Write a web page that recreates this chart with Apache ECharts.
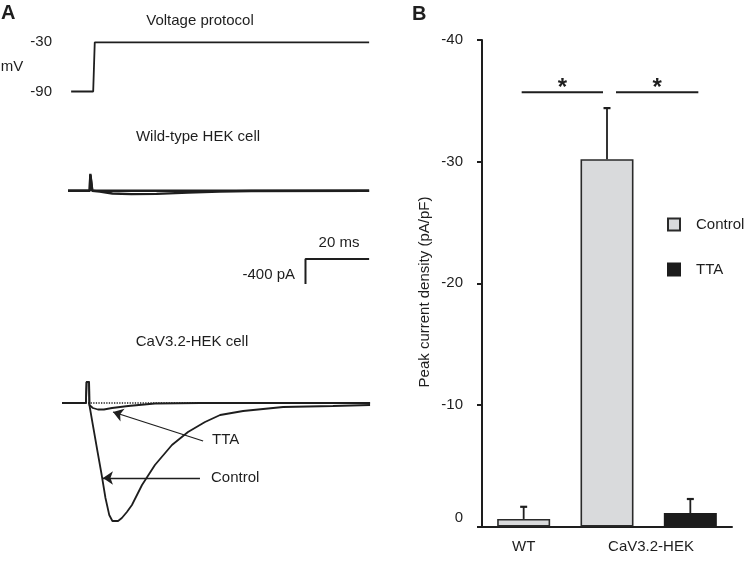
<!DOCTYPE html>
<html>
<head>
<meta charset="utf-8">
<script src="https://cdn.jsdelivr.net/npm/echarts@6/dist/echarts.min.js"></script>
<style>
  html, body { margin: 0; padding: 0; background: #fff; }
  #chart { width: 744px; height: 562px; }
</style>
</head>
<body>
<div id="chart"></div>
<script>
// ---------- Panel A data (time in ms, voltage in mV, current in pA) ----------
const voltTicks = [-90, -30];
const voltageTrace = [[2.9, -90], [9.9, -90], [10.4, -30], [97.5, -30]];

const wtControlTrace = [[1.9, 0], [8.8, 0], [9.0, 270], [9.3, 270], [9.6, 0], [12, -15], [16, -45],
  [22, -55], [30, -50], [40, -30], [50, -12], [60, -4], [97.5, 0]];
const wtTtaTrace = [[1.9, 0], [8.8, 0], [9.0, 250], [9.3, 250], [9.6, 0], [97.5, 0]];

const cavControlTrace = [[0, 0], [7.6, 0], [7.8, 336], [8.6, 336], [8.7, -32], [9.8, -352],
  [11.3, -784], [12.6, -1152], [13.8, -1520], [15.0, -1792], [16.0, -1888], [16.6, -1904],
  [17.8, -1888], [19.0, -1840], [20.6, -1744], [22.2, -1632], [25.4, -1312], [29.5, -992],
  [34.9, -672], [40.0, -464], [45.4, -304], [50.2, -192], [57.5, -128], [70.2, -64],
  [86.0, -48], [97.8, -32]];
const cavTtaTrace = [[0, 0], [7.6, 0], [7.8, 336], [8.6, 336], [8.7, -32], [9.8, -80],
  [11.4, -104], [13.3, -104], [15.9, -80], [21.0, -48], [29.5, -8], [43.8, 0], [97.8, 0]];
const zeroLine = [[0, 0], [97.8, 0]];

// scale bar: 20 ms, -400 pA
const scaleBarTrace = [[97.5, 0], [77.3, 0], [77.3, -400]];

// arrows (from label to trace)
const ttaArrow = [[44.8, -608], [16.2, -144]];
const controlArrow = [[43.8, -1200], [13.0, -1200]];

// ---------- Panel B data (pA/pF) ----------
const categories = ['WT', 'CaV3.2-HEK', ''];
const controlMean = [-0.62, -30.2, null];
const controlSem = [1.0, 4.2, null];
const ttaMean = [null, null, -1.11];
const ttaSem = [null, null, 1.15];
const yTicksB = { min: -40, max: 0, interval: 10 };
const sigPairs = [[0, 1], [1, 2]];
const sigLevel = -35.7;

// ---------- Chart ----------
const FONT = "'Liberation Sans', Arial, Helvetica, sans-serif";
const FS = 15;
const INK = '#1e1e1e';
const chart = echarts.init(document.getElementById('chart'), null, { renderer: 'canvas' });

const traceX = { type: 'value', min: 0, max: 98, show: false };
const hiddenY = (min, max) => ({ type: 'value', min, max, show: false });
const lineSeries = (name, data, xi, w, extra) => Object.assign({
  name, type: 'line', data, xAxisIndex: xi, yAxisIndex: xi, symbol: 'none', clip: false,
  lineStyle: { color: INK, width: w }, silent: true, animation: false
}, extra || {});

const errorData = categories.map((c, i) => controlMean[i] != null
  ? [i, controlMean[i], controlSem[i]] : [i, ttaMean[i], ttaSem[i]]);
const sigData = sigPairs.map(p => [p[0], p[1], sigLevel]);

const txt = (text, x, y, align, extra) => Object.assign({
  type: 'text', x, y,
  style: { text, fill: INK, font: FS + 'px ' + FONT, align, verticalAlign: 'middle' }
}, extra || {});

const option = {
  animation: false,
  backgroundColor: '#ffffff',
  textStyle: { fontFamily: FONT, color: INK },
  grid: [
    { left: 62, width: 308.7, top: 34.1, height: 65.6 },   // voltage
    { left: 62, width: 308.7, top: 165.7, height: 50 },    // WT
    { left: 62, width: 308.7, top: 259, height: 25 },      // scale bar
    { left: 62, width: 308.7, top: 378, height: 150 },     // CaV3.2
    { left: 482, right: 12, top: 40, bottom: 35.5 }        // panel B
  ],
  xAxis: [
    Object.assign({ gridIndex: 0 }, traceX),
    Object.assign({ gridIndex: 1 }, traceX),
    Object.assign({ gridIndex: 2 }, traceX),
    Object.assign({ gridIndex: 3 }, traceX),
    {
      gridIndex: 4, type: 'category', data: categories,
      axisLine: { lineStyle: { color: INK, width: 2 } },
      axisTick: { show: false },
      axisLabel: {
        interval: 0, margin: 13, fontSize: FS, fontFamily: FONT, color: INK,
        formatter: (v, i) => i === 1 ? '{s|' + v + '}' : v,
        rich: { s: { padding: [0, 0, 0, 88], fontSize: FS, fontFamily: FONT, color: INK } }
      }
    }
  ],
  yAxis: [
    {
      gridIndex: 0, type: 'value', min: -100, max: -20,
      axisLine: { show: false }, axisTick: { show: false }, splitLine: { show: false },
      axisLabel: { customValues: voltTicks, margin: 10, fontSize: FS, fontFamily: FONT, color: INK }
    },
    Object.assign({ gridIndex: 1 }, hiddenY(-400, 400)),
    Object.assign({ gridIndex: 2 }, hiddenY(-400, 0)),
    Object.assign({ gridIndex: 3 }, hiddenY(-2000, 400)),
    {
      gridIndex: 4, type: 'value', inverse: true,
      min: yTicksB.min, max: yTicksB.max, interval: yTicksB.interval,
      axisLine: { show: true, lineStyle: { color: INK, width: 2 } },
      axisTick: { show: true, length: 5, lineStyle: { color: INK, width: 2 } },
      splitLine: { show: false },
      axisLabel: {
        margin: 19, fontSize: FS, fontFamily: FONT, color: INK,
        formatter: v => v === 0 ? '{z|0}' : String(v),
        rich: { z: { padding: [0, 0, 18, 0], fontSize: FS, fontFamily: FONT, color: INK } }
      }
    }
  ],
  legend: {
    data: ['Control', 'TTA'], orient: 'vertical', left: 667, top: 217, padding: 0,
    itemWidth: 12, itemHeight: 12, itemGap: 30, icon: 'rect', selectedMode: false,
    textStyle: { fontSize: FS, fontFamily: FONT, color: INK, padding: [0, 0, 0, 11] }
  },
  series: [
    lineSeries('voltage', voltageTrace, 0, 1.8),
    lineSeries('wt-control', wtControlTrace, 1, 2.4),
    lineSeries('wt-tta', wtTtaTrace, 1, 2.4),
    lineSeries('scale', scaleBarTrace, 2, 2),
    lineSeries('zero', zeroLine, 3, 1.3, { lineStyle: { color: INK, width: 1.3, type: 'dotted' } }),
    lineSeries('cav-tta', cavTtaTrace, 3, 1.8),
    lineSeries('cav-control', cavControlTrace, 3, 1.8, {
      markLine: {
        silent: true, symbol: ['none', 'arrow'], symbolSize: 10, animation: false,
        label: { show: false },
        lineStyle: { color: INK, width: 1.3, type: 'solid' },
        data: [
          [{ coord: ttaArrow[0] }, { coord: ttaArrow[1] }],
          [{ coord: controlArrow[0] }, { coord: controlArrow[1] }]
        ]
      }
    }),
    {
      name: 'Control', type: 'bar', xAxisIndex: 4, yAxisIndex: 4, data: controlMean,
      barWidth: 53, barGap: '-100%',
      itemStyle: { color: '#d9dadc', borderColor: '#2a2a2a', borderWidth: 1.6 }
    },
    {
      name: 'TTA', type: 'bar', xAxisIndex: 4, yAxisIndex: 4, data: ttaMean,
      barWidth: 53, barGap: '-100%',
      itemStyle: { color: '#1c1c1c', borderColor: '#1c1c1c', borderWidth: 1.6 }
    },
    {
      name: 'err', type: 'custom', xAxisIndex: 4, yAxisIndex: 4, data: errorData,
      encode: { x: 0, y: 1 }, silent: true, z: 3,
      renderItem: (params, api) => {
        const i = api.value(0), m = api.value(1), s = api.value(2);
        const p0 = api.coord([i, m]);
        const p1 = api.coord([i, m - s]);
        return {
          type: 'group', children: [
            { type: 'line', shape: { x1: p0[0], y1: p0[1], x2: p1[0], y2: p1[1] }, style: { stroke: INK, lineWidth: 1.8 } },
            { type: 'line', shape: { x1: p1[0] - 3.5, y1: p1[1], x2: p1[0] + 3.5, y2: p1[1] }, style: { stroke: INK, lineWidth: 2.2 } }
          ]
        };
      }
    },
    {
      name: 'sig', type: 'custom', xAxisIndex: 4, yAxisIndex: 4, data: sigData,
      encode: { x: 0, y: 2 }, silent: true, z: 3,
      renderItem: (params, api) => {
        const a = api.value(0), b = api.value(1), y = api.value(2);
        const pa = api.coord([a, y]), pb = api.coord([b, y]);
        const off = params.dataIndex === 0 ? [-2, -4] : [9, 8];
        const x1 = pa[0] + off[0], x2 = pb[0] + off[1];
        return {
          type: 'group', children: [
            { type: 'line', shape: { x1, y1: pa[1], x2, y2: pa[1] }, style: { stroke: INK, lineWidth: 2 } },
            { type: 'text', x: (x1 + x2) / 2, y: pa[1] - 4,
              style: { text: '*', fill: INK, font: "bold 24px 'Liberation Sans', Arial, sans-serif", align: 'center', verticalAlign: 'middle' } }
          ]
        };
      }
    }
  ],
  graphic: [
    { type: 'text', x: 1, y: 3, style: { text: 'A', fill: INK, font: "bold 20px 'Liberation Sans', Arial, sans-serif", align: 'left', verticalAlign: 'top' } },
    { type: 'text', x: 412, y: 4, style: { text: 'B', fill: INK, font: "bold 20px 'Liberation Sans', Arial, sans-serif", align: 'left', verticalAlign: 'top' } },
    txt('Voltage protocol', 200, 21, 'center'),
    txt('mV', 12, 67, 'center'),
    txt('Wild-type HEK cell', 198, 137, 'center'),
    txt('20 ms', 339, 243, 'center'),
    txt('-400 pA', 295, 275, 'right'),
    txt('CaV3.2-HEK cell', 192, 342, 'center'),
    txt('TTA', 212, 440, 'left'),
    txt('Control', 211, 478, 'left'),
    txt('Peak current density (pA/pF)', 425, 292, 'center', { rotation: Math.PI / 2 })
  ]
};
chart.setOption(option);
</script>
</body>
</html>
